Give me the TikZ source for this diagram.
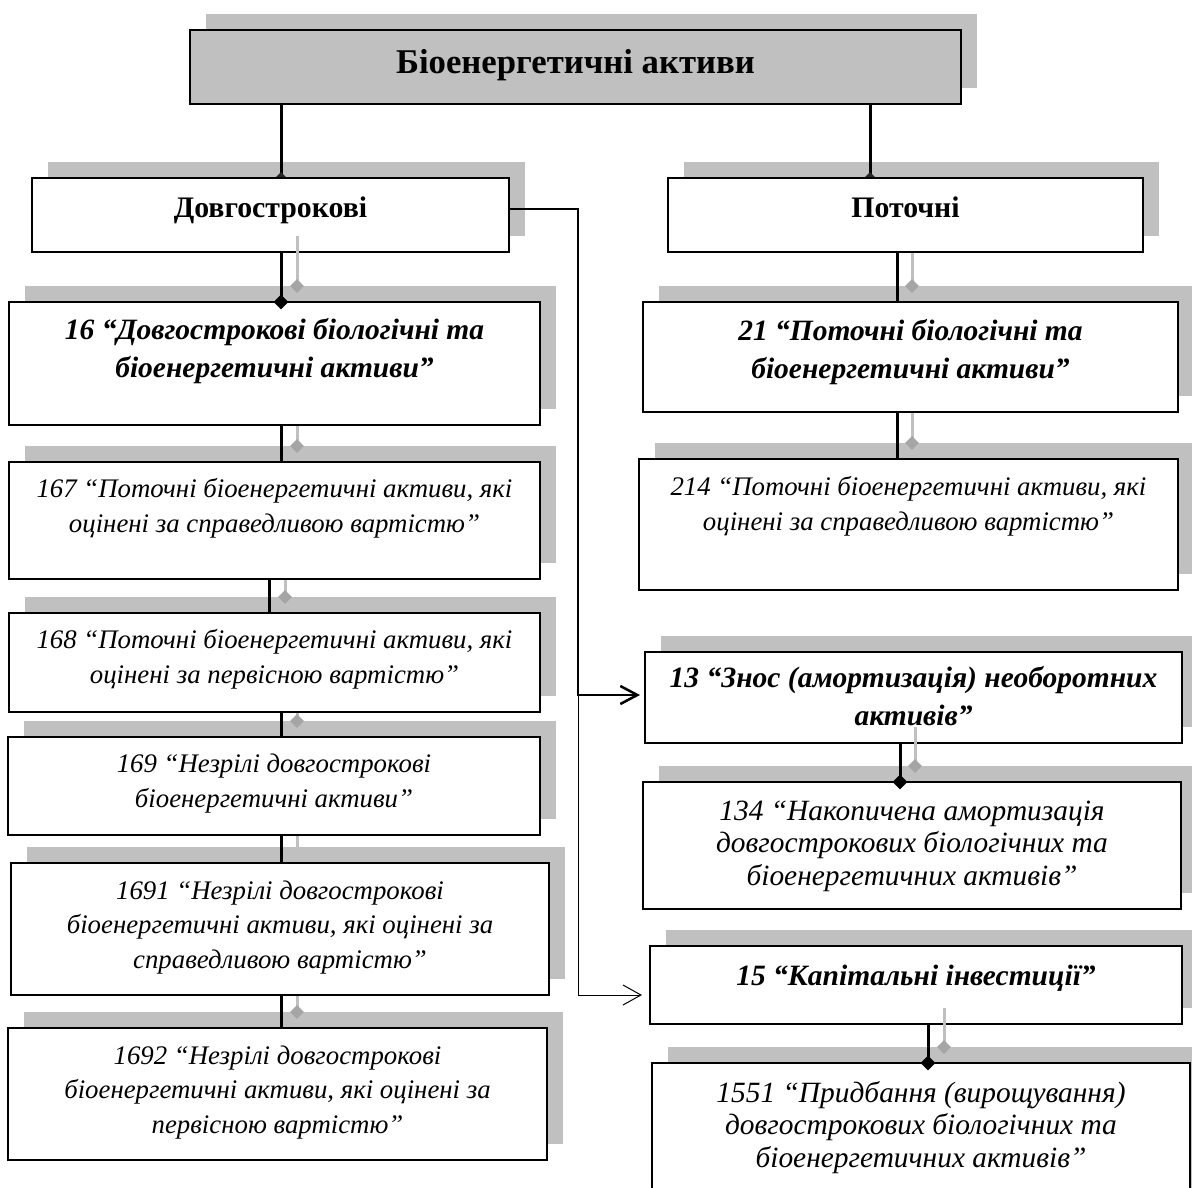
\documentclass[tikz,border=0pt]{standalone}
\usepackage{fontspec}
\setmainfont{Liberation Serif}
\usetikzlibrary{arrows.meta,shapes.geometric,calc}
\pgfdeclarelayer{shadowlayer}
\pgfdeclarelayer{under}
\pgfsetlayers{shadowlayer,under,main}
\definecolor{shd}{RGB}{192,192,192}
\definecolor{shdd}{RGB}{165,165,165}
\tikzset{
  box/.style={draw=black, line width=2pt, fill=white, anchor=north west, inner sep=0pt, outer sep=0pt},
  ttl/.style={anchor=base, align=center, inner sep=0pt, font=\fontsize{34.7}{40}\selectfont\bfseries},
  hd/.style={anchor=base, align=center, inner sep=0pt, font=\fontsize{29.8}{34}\selectfont\bfseries},
  bitx/.style={anchor=base, align=center, inner sep=0pt, font=\fontsize{29.5}{37.5}\selectfont\bfseries\itshape},
  itx/.style={anchor=base, align=center, inner sep=0pt, font=\fontsize{26.8}{34.5}\selectfont\itshape},
  itl/.style={anchor=base, align=center, inner sep=0pt, font=\fontsize{29.4}{32.5}\selectfont\itshape},
  bl/.style={line width=3pt, draw=black},
  gl/.style={line width=3pt, draw=shd},
  bdia/.style={diamond, fill=black, inner sep=0pt, minimum size=15pt},
  sdia/.style={diamond, fill=black!85, inner sep=0pt, minimum size=12pt},
  gdia/.style={diamond, fill=shdd, inner sep=0pt, minimum size=14pt},
}
% name, x1, y1, x2, y2, extra
\newcommand\mkbox[6]{\node[box,#6,minimum width={(#4)-(#2)},minimum height={(#5)-(#3)}] (#1) at (#2,-#3) {};}
\begin{document}
\begin{tikzpicture}[x=1pt,y=1pt]
\useasboundingbox (0,0) rectangle (1192,-1187);
\clip (0,0) rectangle (1192,-1187);

% boxes
\mkbox{top}{190}{30}{961}{104}{fill=shd}
\mkbox{dov}{32}{178}{509}{252}{}
\mkbox{pot}{668}{178}{1143}{252}{}
\mkbox{b16}{9}{302}{540}{425}{}
\mkbox{b167}{9}{462}{540}{579}{}
\mkbox{b168}{9}{613}{540}{712}{}
\mkbox{b169}{8}{737}{540}{835}{}
\mkbox{b1691}{11}{863}{549}{995}{}
\mkbox{b1692}{8}{1028}{547}{1160}{}
\mkbox{b21}{643}{302}{1178}{412}{}
\mkbox{b214}{639}{459}{1178}{590}{}
\mkbox{b13}{645}{652}{1182}{743}{}
\mkbox{b134}{643}{782}{1181}{909}{}
\mkbox{b15}{650}{946}{1182}{1024}{}
\mkbox{b1551}{652}{1063}{1190}{1230}{}

% shadows of the boxes
\begin{pgfonlayer}{shadowlayer}
\foreach \n in {top,dov,pot,b16,b167,b168,b169,b1691,b1692,b21,b214,b13,b134,b15,b1551}{
  \fill[shd] ($(\n.south west)+(16,16)$) rectangle ($(\n.north east)+(16,16)$);
}
\end{pgfonlayer}

% texts (anchor base = baseline of the last line)
\node[ttl] (top-t) at (top.north |- 0,-73) {Біоенергетичні активи};
\node[hd] (dov-t) at (dov.north |- 0,-217) {Довгострокові};
\node[hd] (pot-t) at (pot.north |- 0,-217) {Поточні};
\node[bitx] (b16-t) at (b16.north |- 0,-377) {16 “Довгострокові біологічні та\\біоенергетичні активи”};
\node[itx] (b167-t) at (b167.north |- 0,-532) {167 “Поточні біоенергетичні активи, які\\оцінені за справедливою вартістю”};
\node[itx] (b168-t) at (b168.north |- 0,-683) {168 “Поточні біоенергетичні активи, які\\оцінені за первісною вартістю”};
\node[itx] (b169-t) at (b169.north |- 0,-807) {169 “Незрілі довгострокові\\біоенергетичні активи”};
\node[itx] (b1691-t) at (b1691.north |- 0,-968) {1691 “Незрілі довгострокові\\біоенергетичні активи, які оцінені за\\справедливою вартістю”};
\node[itx] (b1692-t) at (b1692.north |- 0,-1133) {1692 “Незрілі довгострокові\\біоенергетичні активи, які оцінені за\\первісною вартістю”};
\node[bitx] (b21-t) at (b21.north |- 0,-378) {21 “Поточні біологічні та\\біоенергетичні активи”};
\node[itx] (b214-t) at (b214.north |- 0,-530) {214 “Поточні біоенергетичні активи, які\\оцінені за справедливою вартістю”};
\node[bitx] (b13-t) at (b13.north |- 0,-725) {13 “Знос (амортизація) необоротних\\активів”};
\node[itl] (b134-t) at (b134.north |- 0,-885) {134 “Накопичена амортизація\\довгострокових біологічних та\\біоенергетичних активів”};
\node[bitx] (b15-t) at (b15.north |- 0,-985) {15 “Капітальні інвестиції”};
\node[itl] (b1551-t) at (b1551.north |- 0,-1167) {1551 “Придбання (вирощування)\\довгострокових біологічних та\\біоенергетичних активів”};

% connectors hidden under the boxes
\begin{pgfonlayer}{under}
  \draw[bl] (top.south -| 281,0) -- (dov.north -| 281,0);
  \node[sdia] (dA) at (dov.north -| 281,0) {};
  \draw[bl] (top.south -| 870,0) -- (pot.north -| 870,0);
  \node[sdia] (dB) at (pot.north -| 870,0) {};
  % grey shadows of connectors
  \draw[gl] ($(pot.south -| 912,0)+(0,16)$) -- ($(b21.north -| 912,0)+(0,16)$);
  \node[gdia] (g2) at ($(b21.north -| 912,0)+(0,16)$) {};
  \draw[gl] ($(b16.south -| 297,0)+(0,16)$) -- ($(b167.north -| 297,0)+(0,16)$);
  \node[gdia] (g3) at ($(b167.north -| 297,0)+(0,16)$) {};
  \draw[gl] ($(b167.south -| 285,0)+(0,16)$) -- ($(b168.north -| 285,0)+(0,16)$);
  \node[gdia] (g4) at ($(b168.north -| 285,0)+(0,16)$) {};
  \draw[gl] ($(b168.south -| 297,0)+(0,16)$) -- ($(b169.north -| 297,0)+(0,16)$);
  \node[gdia] (g5) at ($(b169.north -| 297,0)+(0,16)$) {};
  \draw[gl] ($(b169.south -| 297,0)+(0,16)$) -- ($(b1691.north -| 297,0)+(0,16)$);
  \draw[gl] ($(b1691.south -| 297,0)+(0,16)$) -- ($(b1692.north -| 297,0)+(0,16)$);
  \node[gdia] (g7) at ($(b1692.north -| 297,0)+(0,16)$) {};
  \draw[gl] ($(b21.south -| 912,0)+(0,16)$) -- ($(b214.north -| 912,0)+(0,16)$);
  \node[gdia] (g8) at ($(b214.north -| 912,0)+(0,16)$) {};
  % black connectors whose heads are hidden
  \draw[bl] (pot.south -| 897,0) -- (b21.north -| 897,0);
  \draw[bl] (b16.south -| 281,0) -- (b167.north -| 281,0);
  \draw[bl] (b167.south -| 269,0) -- (b168.north -| 269,0);
  \draw[bl] (b168.south -| 281,0) -- (b169.north -| 281,0);
  \draw[bl] (b169.south -| 281,0) -- (b1691.north -| 281,0);
  \draw[bl] (b1691.south -| 281,0) -- (b1692.north -| 281,0);
  \draw[bl] (b21.south -| 897,0) -- (b214.north -| 897,0);
\end{pgfonlayer}

% visible grey shadows of connectors
\draw[gl] ($(dov.south -| 297,0)+(0,16)$) -- ($(b16.north -| 297,0)+(0,16)$);
\node[gdia] (g1) at ($(b16.north -| 297,0)+(0,16)$) {};
\draw[gl] ($(b13.south -| 915,0)+(0,16)$) -- ($(b134.north -| 915,0)+(0,16)$);
\node[gdia] (g9) at ($(b134.north -| 915,0)+(0,16)$) {};
\draw[gl] ($(b15.south -| 944,0)+(0,16)$) -- ($(b1551.north -| 944,0)+(0,16)$);
\node[gdia] (g10) at ($(b1551.north -| 944,0)+(0,16)$) {};

% visible black connectors with diamond heads
\draw[bl] (dov.south -| 281,0) -- (b16.north -| 281,0);
\node[bdia] (d1) at (b16.north -| 281,0) {};
\draw[bl] (b13.south -| 900,0) -- (b134.north -| 900,0);
\node[bdia] (d2) at (b134.north -| 900,0) {};
\draw[bl] (b15.south -| 928,0) -- (b1551.north -| 928,0);
\node[bdia] (d3) at (b1551.north -| 928,0) {};

% arrows to accounts 13 and 15
\coordinate (jt) at (578,-209);
\coordinate (jn) at (578,-695);
\draw[line width=2.5pt, -{Straight Barb[length=17pt,width=18pt]}, shorten >=5pt]
  (dov.east |- jt) -- (jt) -- (jn) -- (b13.west |- jn);
\draw[line width=1pt, -{Straight Barb[length=18pt,width=20pt]}, shorten >=8pt]
  (jn) -- (jn |- 0,-995) -- (b15.west |- 0,-995);
\end{tikzpicture}
\end{document}
